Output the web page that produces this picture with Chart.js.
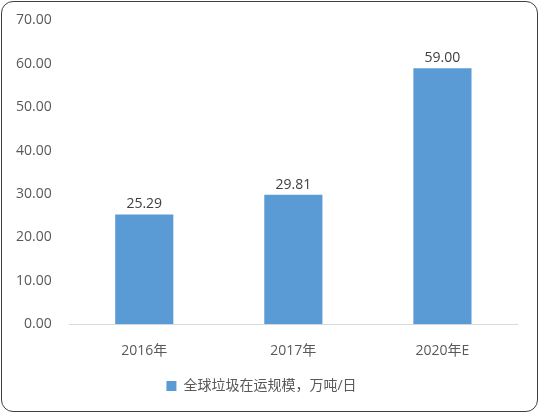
<!DOCTYPE html>
<html>
<head>
<meta charset="utf-8">
<script src="https://cdn.jsdelivr.net/npm/chart.js@4"></script>
<style>
  html, body { margin: 0; padding: 0; background: #fff; }
  #wrap {
    position: relative;
    width: 537px;
    height: 411px;
    margin: 1px;
    border: 1.5px solid #404040;
    border-radius: 12px;
    box-sizing: border-box;
    overflow: hidden;
  }
</style>
</head>
<body>
<div id="wrap"><canvas id="chart"></canvas></div>
<script>
const categories  = ["2016年", "2017年", "2020年E"];
const seriesName  = "全球垃圾在运规模，万吨/日";
const seriesVals  = [25.29, 29.81, 59.00];
const yTicks      = [0, 10, 20, 30, 40, 50, 60, 70];

const FONT = "'Open Sans', 'Noto Sans CJK SC', sans-serif";

// draws the value above each bar
const valueLabels = {
    id: "valueLabels",
    afterDatasetsDraw(chart) {
        const ctx = chart.ctx;
        const meta = chart.getDatasetMeta(0);
        ctx.save();
        ctx.fillStyle = "#404040";
        ctx.font = "14px " + FONT;
        ctx.textAlign = "center";
        ctx.textBaseline = "bottom";
        meta.data.forEach((bar, i) => {
            ctx.fillText(seriesVals[i].toFixed(2), bar.x, bar.y - 3);
        });
        ctx.restore();
    }
};

new Chart(document.getElementById("chart"), {
    type: "bar",
    data: {
        labels: categories,
        datasets: [{
            label: seriesName,
            data: seriesVals,
            backgroundColor: "#5b9bd5",
            categoryPercentage: 1,
            barPercentage: 0.39
        }]
    },
    options: {
        responsive: true,
        maintainAspectRatio: false,
        animation: false,
        layout: { padding: { top: 6, left: 4, right: 20, bottom: 8 } },
        plugins: {
            legend: {
                position: "bottom",
                labels: {
                    boxWidth: 10,
                    boxHeight: 10,
                    color: "#595959",
                    font: { size: 14, family: FONT },
                    padding: 10
                }
            },
            tooltip: { enabled: false }
        },
        scales: {
            x: {
                grid: { display: false },
                border: { color: "#d9d9d9", width: 1 },
                ticks: {
                    color: "#595959",
                    font: { size: 14, family: FONT },
                    padding: 10
                }
            },
            y: {
                min: 0,
                max: 70,
                afterBuildTicks(axis) {
                    axis.ticks = yTicks.map(v => ({ value: v }));
                },
                grid: { display: false },
                border: { display: false },
                ticks: {
                    color: "#595959",
                    font: { size: 14, family: FONT },
                    padding: 10,
                    callback: v => Number(v).toFixed(2)
                }
            }
        }
    },
    plugins: [valueLabels]
});
</script>
</body>
</html>
